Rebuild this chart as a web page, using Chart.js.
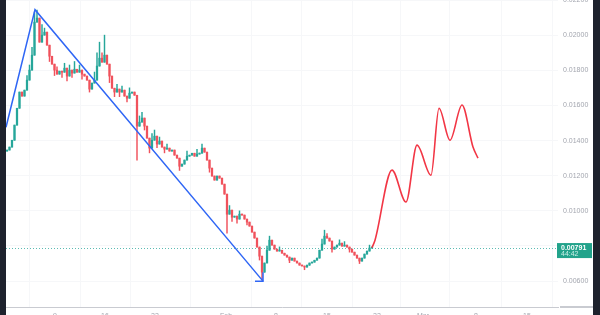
<!DOCTYPE html>
<html>
<head>
<meta charset="utf-8">
<script src="https://cdn.jsdelivr.net/npm/chart.js@4.4.1/dist/chart.umd.min.js"></script>
<style>
  html, body { margin: 0; padding: 0; width: 600px; height: 315px; overflow: hidden; background: #1e222d; }
  #wrap { position: absolute; left: 6px; top: 0; width: 587px; height: 315px; background: #ffffff; overflow: hidden; }
  #c { display: block; }
</style>
</head>
<body>
<div id="wrap"><canvas id="c" width="587" height="330" style="width:587px;height:330px"></canvas></div>
<script>
// Candle closes, one per bar (open = previous close)
const firstOpen = 0.01340;
const closes = [
  0.01346, 0.01363, 0.01402, 0.01488, 0.01584, 0.01676, 0.01653, 0.01687, 0.01744, 0.01801,
  0.01886, 0.02074, 0.02097, 0.01960, 0.02000, 0.02017, 0.01943, 0.01880, 0.01835, 0.01801,
  0.01778, 0.01795, 0.01789, 0.01812, 0.01767, 0.01801, 0.01784, 0.01806, 0.01789, 0.01801,
  0.01778, 0.01767, 0.01744, 0.01693, 0.01727, 0.01744, 0.01824, 0.01869, 0.01846, 0.01886,
  0.01835, 0.01767, 0.01698, 0.01676, 0.01693, 0.01676, 0.01687, 0.01653, 0.01641, 0.01670,
  0.01676, 0.01658, 0.01482, 0.01505, 0.01528, 0.01482, 0.01414, 0.01357, 0.01402, 0.01425,
  0.01380, 0.01397, 0.01363, 0.01351, 0.01357, 0.01340, 0.01346, 0.01317, 0.01300, 0.01254,
  0.01266, 0.01289, 0.01311, 0.01317, 0.01328, 0.01311, 0.01323, 0.01328, 0.01357, 0.01334,
  0.01289, 0.01243, 0.01198, 0.01175, 0.01198, 0.01186, 0.01152, 0.01095, 0.00981, 0.01004,
  0.00964, 0.00970, 0.00953, 0.00981, 0.00976, 0.00953, 0.00936, 0.00913, 0.00879, 0.00845,
  0.00794, 0.00742, 0.00651, 0.00703, 0.00776, 0.00833, 0.00805, 0.00782, 0.00771, 0.00776,
  0.00759, 0.00748, 0.00737, 0.00719, 0.00731, 0.00714, 0.00703, 0.00691, 0.00686, 0.00680,
  0.00691, 0.00703, 0.00708, 0.00719, 0.00731, 0.00776, 0.00811, 0.00856, 0.00845, 0.00828,
  0.00782, 0.00794, 0.00805, 0.00816, 0.00799, 0.00805, 0.00794, 0.00782, 0.00765, 0.00748,
  0.00731, 0.00714, 0.00731, 0.00754, 0.00771, 0.00788, 0.00791
];
// wicks that stick out of the bodies (bar index -> price)
const wickHighs = {
  8: 0.01770, 9: 0.01830, 10: 0.01930, 11: 0.02131, 12: 0.02142, 13: 0.02050, 14: 0.02060,
  15: 0.02040, 16: 0.01990, 18: 0.01870, 20: 0.01820, 23: 0.01840, 25: 0.01830, 27: 0.01850,
  29: 0.01830, 35: 0.01790, 36: 0.01900, 37: 0.01960, 38: 0.01900, 39: 0.02000, 40: 0.01880,
  44: 0.01720, 46: 0.01710, 49: 0.01700, 53: 0.01540, 54: 0.01560, 58: 0.01440, 59: 0.01460,
  61: 0.01420, 64: 0.01380, 72: 0.01340, 76: 0.01350, 78: 0.01380, 89: 0.01030, 93: 0.01000,
  104: 0.00800, 105: 0.00856, 106: 0.00830, 109: 0.00795, 126: 0.00840, 127: 0.00890,
  128: 0.00870, 133: 0.00835, 135: 0.00825, 145: 0.00805
};
const wickLows = {
  17: 0.01850, 19: 0.01770, 22: 0.01760, 24: 0.01740, 26: 0.01760, 30: 0.01750, 33: 0.01676,
  34: 0.01700, 41: 0.01730, 43: 0.01650, 45: 0.01650, 48: 0.01620, 52: 0.01289, 55: 0.01460,
  57: 0.01330, 60: 0.01360, 63: 0.01330, 69: 0.01230, 71: 0.01270, 81: 0.01220, 88: 0.00873,
  90: 0.00940, 92: 0.00930, 96: 0.00920, 101: 0.00720, 102: 0.00606, 113: 0.00705,
  119: 0.00665, 121: 0.00690, 130: 0.00765, 137: 0.00765, 141: 0.00700
};

// red projected path
const projX = [146, 147.2, 154, 159.6, 164, 169.6, 172.8, 177.2, 182, 186.4, 188.4];
const projY = [0.00791, 0.00833, 0.01232, 0.01050, 0.01374, 0.01203, 0.01584, 0.01402, 0.01602, 0.01363, 0.01300];

// blue drawn trend line with arrow tip
const trendX = [-0.4, 11.2, 102.4];
const trendY = [0.01476, 0.02145, 0.00600];
const arrowX = [99.2, 102.4, 102.4];
const arrowY = [0.00600, 0.00600, 0.00651];

const priceTicks = [0.006, 0.008, 0.010, 0.012, 0.014, 0.016, 0.018, 0.020, 0.022];
const timeTicks = [19.2, 39.2, 59.2, 87.6, 107.6, 128, 148, 166.4, 187.6, 208];
const timeLabels = ['9', '16', '23', 'Feb', '8', '15', '22', 'Mar', '8', '15'];
const lastLabel = ['0.00791', '44:42'];

const UP = '#26a69a';
const DOWN = '#f0525c';
const axisFont = { family: "'Liberation Sans', Arial, sans-serif", size: 7 };

const opens = closes.map((c, i) => (i === 0 ? firstOpen : closes[i - 1]));
const bodies = closes.map((c, i) => ({ x: i, y: [opens[i], c] }));
const wicks = closes.map((c, i) => ({
  x: i,
  y: [Math.min(opens[i], c, wickLows[i] ?? c), Math.max(opens[i], c, wickHighs[i] ?? c)],
}));
const candleColors = closes.map((c, i) => (c >= opens[i] ? UP : DOWN));

const lastPricePlugin = {
  id: 'lastPrice',
  beforeDatasetsDraw(chart) {
    const { ctx, chartArea } = chart;
    const y = Math.round(chart.scales.y.getPixelForValue(closes[closes.length - 1])) + 0.5;
    ctx.save();
    ctx.strokeStyle = 'rgba(38,166,154,0.75)';
    ctx.lineWidth = 1;
    ctx.setLineDash([1, 2]);
    ctx.beginPath();
    ctx.moveTo(chartArea.left, y);
    ctx.lineTo(chartArea.right, y);
    ctx.stroke();
    ctx.restore();
  },
  afterDraw(chart) {
    const { ctx, chartArea, width } = chart;
    const y = chart.scales.y.getPixelForValue(closes[closes.length - 1]);
    ctx.save();
    // bottom line under the price scale
    ctx.fillStyle = '#c9cbd1';
    ctx.fillRect(chartArea.right + 2, chartArea.bottom - 1, width - chartArea.right - 2, 2);
    // price tag
    ctx.fillStyle = '#22a38b';
    ctx.fillRect(chartArea.right - 1, y - 4.5, 35, 15);
    ctx.font = "bold 7px 'Liberation Sans', Arial, sans-serif";
    ctx.fillStyle = '#ffffff';
    ctx.textBaseline = 'middle';
    ctx.fillText(lastLabel[0], chartArea.right + 3, y);
    ctx.font = "7px 'Liberation Sans', Arial, sans-serif";
    ctx.fillStyle = '#c9efe7';
    ctx.fillText(lastLabel[1], chartArea.right + 3, y + 6.5);
    ctx.restore();
  },
};

new Chart(document.getElementById('c'), {
  data: {
    datasets: [
      {
        type: 'line',
        data: projX.map((x, i) => ({ x, y: projY[i] })),
        borderColor: '#f23645',
        borderWidth: 1.6,
        pointRadius: 0,
        cubicInterpolationMode: 'monotone',
        order: 0,
      },
      {
        type: 'line',
        data: trendX.map((x, i) => ({ x, y: trendY[i] })),
        borderColor: '#2f66f5',
        borderWidth: 1.5,
        pointRadius: 0,
        tension: 0,
        order: 0,
      },
      {
        type: 'line',
        data: arrowX.map((x, i) => ({ x, y: arrowY[i] })),
        borderColor: '#2f66f5',
        borderWidth: 1.5,
        pointRadius: 0,
        tension: 0,
        order: 0,
      },
      {
        type: 'bar',
        data: bodies,
        backgroundColor: candleColors,
        barThickness: 1.6,
        minBarLength: 1,
        grouped: false,
        order: 1,
      },
      {
        type: 'bar',
        data: wicks,
        backgroundColor: candleColors,
        barThickness: 0.8,
        minBarLength: 1,
        grouped: false,
        order: 2,
      },
    ],
  },
  options: {
    responsive: false,
    animation: false,
    layout: { padding: 0 },
    plugins: {
      legend: { display: false },
      tooltip: { enabled: false },
    },
    scales: {
      x: {
        type: 'linear',
        min: -0.4,
        max: 220.4,
        offset: false,
        grid: { color: '#f6f7f9', drawTicks: false },
        border: { color: '#c9cbd1', width: 1 },
        ticks: {
          font: axisFont,
          color: '#a3a6af',
          padding: 5,
          maxRotation: 0,
          autoSkip: false,
          callback: (v, i) => timeLabels[i],
        },
        afterBuildTicks: (scale) => {
          scale.ticks = timeTicks.map((v) => ({ value: v }));
        },
        afterFit: (scale) => {
          scale.height = 23;
          scale.paddingLeft = 0;
          scale.paddingRight = 0;
        },
      },
      y: {
        type: 'linear',
        position: 'right',
        min: 0.004528,
        max: 0.022,
        grid: { color: '#f6f7f9', drawTicks: false },
        border: { display: false },
        ticks: {
          font: axisFont,
          color: '#a3a6af',
          padding: 5,
          callback: (v) => v.toFixed(5),
        },
        afterBuildTicks: (scale) => {
          scale.ticks = priceTicks.map((v) => ({ value: v }));
        },
        afterFit: (scale) => {
          scale.width = 35;
          scale.paddingTop = 0;
          scale.paddingBottom = 0;
        },
      },
    },
  },
  plugins: [lastPricePlugin],
});
</script>
</body>
</html>
